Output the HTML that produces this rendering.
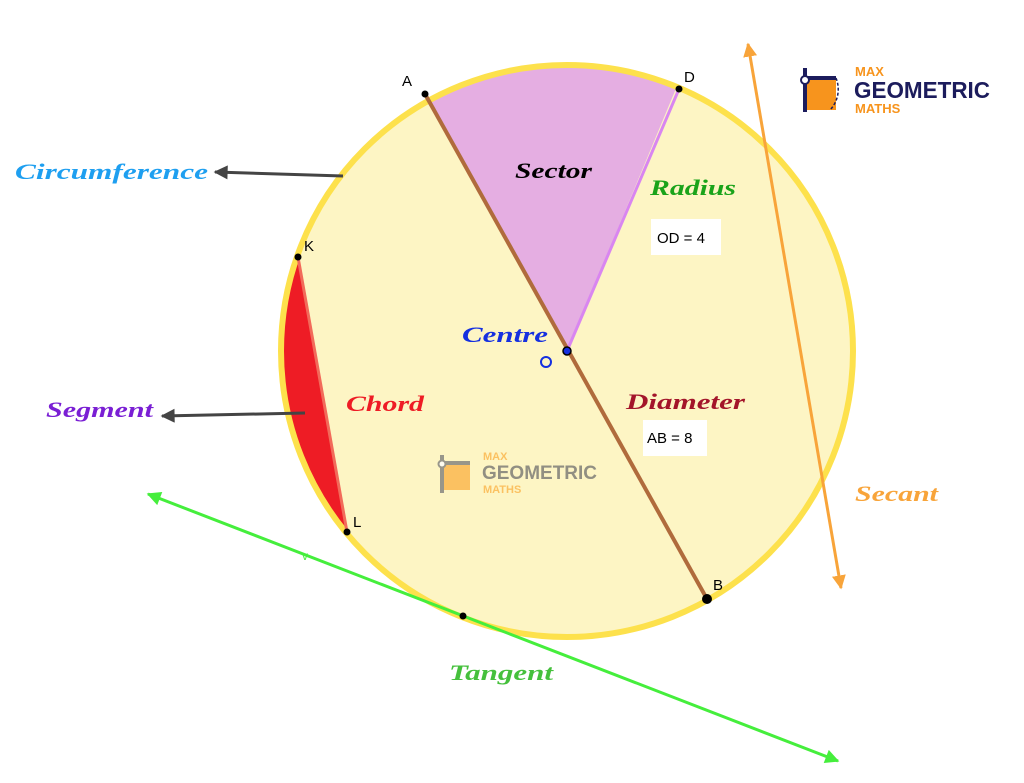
<!DOCTYPE html>
<html><head><style>
body{margin:0;background:#fff}
svg{display:block}
.l{font-family:"Liberation Serif",serif;font-style:italic;font-weight:bold;font-size:22px}
.p{font-family:"Liberation Sans",sans-serif;font-size:15px}
</style></head><body>
<svg width="1024" height="783" viewBox="0 0 1024 783">
<defs>
<clipPath id="cc"><circle cx="567" cy="351" r="286"/></clipPath>
<marker id="agr" viewBox="0 0 10 10" markerWidth="18" markerHeight="14" refX="9" refY="5" orient="auto-start-reverse" markerUnits="userSpaceOnUse"><path d="M0,0 L10,5 L0,10 z" fill="#45ee3c"/></marker>
<marker id="ao" viewBox="0 0 10 10" markerWidth="14" markerHeight="22" refX="9" refY="5" orient="auto-start-reverse" markerUnits="userSpaceOnUse"><path d="M0,0 L10,5 L0,10 z" fill="#f8a43a"/></marker>
<marker id="ad" viewBox="0 0 10 10" markerWidth="20" markerHeight="14" refX="9" refY="5" orient="auto" markerUnits="userSpaceOnUse"><path d="M0,0 L10,5 L0,10 z" fill="#444"/></marker>
</defs>
<circle cx="567" cy="351" r="286" fill="#fdf5c4"/>
<g clip-path="url(#cc)">
<path d="M567,351 L404,56 L692,50 Z" fill="#e5aee2"/>
<path d="M298,257 L347,532 L200,600 L200,200 Z" fill="#ee1c25"/>
</g>
<circle cx="567" cy="351" r="286" fill="none" stroke="#fde14c" stroke-width="6"/>
<line x1="567" y1="351" x2="679" y2="89" stroke="#d986f0" stroke-width="3"/>
<line x1="298" y1="257" x2="347" y2="532" stroke="#f26a5a" stroke-width="3"/>
<line x1="425" y1="94" x2="707" y2="599" stroke="#b06b3c" stroke-width="4"/>
<line x1="148" y1="494" x2="838" y2="761" stroke="#45ee3c" stroke-width="3" marker-start="url(#agr)" marker-end="url(#agr)"/>
<line x1="748" y1="44" x2="841" y2="588" stroke="#f8a43a" stroke-width="3" marker-start="url(#ao)" marker-end="url(#ao)"/>
<line x1="343" y1="176" x2="215" y2="172" stroke="#444" stroke-width="3" marker-end="url(#ad)"/>
<line x1="305" y1="413" x2="162" y2="416" stroke="#444" stroke-width="3" marker-end="url(#ad)"/>
<circle cx="425" cy="94" r="3.5"/><circle cx="679" cy="89" r="3.5"/>
<circle cx="707" cy="599" r="5"/><circle cx="298" cy="257" r="3.5"/>
<circle cx="347" cy="532" r="3.5"/><circle cx="463" cy="616" r="3.5"/>
<circle cx="567" cy="351" r="4" fill="#1530e0" stroke="#000" stroke-width="1.5"/>
<circle cx="546" cy="362" r="5" fill="none" stroke="#1530e0" stroke-width="2"/>
<text x="402" y="86" class="p">A</text><text x="684" y="82" class="p">D</text>
<text x="713" y="590" class="p">B</text><text x="304" y="251" class="p">K</text>
<text x="353" y="527" class="p">L</text>
<text x="302" y="560" fill="#45ee3c" font-family="Liberation Sans" font-size="12">v</text>
<text x="15" y="179" class="l" fill="#1e9ff0" textLength="193" lengthAdjust="spacingAndGlyphs">Circumference</text>
<text x="515" y="178" class="l" fill="#000" textLength="77" lengthAdjust="spacingAndGlyphs">Sector</text>
<text x="650" y="195" class="l" fill="#1aa31a" textLength="86" lengthAdjust="spacingAndGlyphs">Radius</text>
<rect x="651" y="219" width="70" height="36" fill="#fff"/>
<text x="657" y="243" class="p" font-size="16">OD = 4</text>
<text x="462" y="342" class="l" fill="#1530e0" textLength="86" lengthAdjust="spacingAndGlyphs">Centre</text>
<text x="46" y="417" class="l" fill="#7a1fd4" textLength="107" lengthAdjust="spacingAndGlyphs">Segment</text>
<text x="346" y="411" class="l" fill="#ee1c25" textLength="78" lengthAdjust="spacingAndGlyphs">Chord</text>
<text x="626" y="409" class="l" fill="#a3152a" textLength="119" lengthAdjust="spacingAndGlyphs">Diameter</text>
<rect x="643" y="420" width="64" height="36" fill="#fff"/>
<text x="647" y="443" class="p" font-size="16">AB = 8</text>
<text x="855" y="501" class="l" fill="#f8a43a" textLength="83" lengthAdjust="spacingAndGlyphs">Secant</text>
<text x="449" y="680" class="l" fill="#45c03c" textLength="104" lengthAdjust="spacingAndGlyphs">Tangent</text>
<g font-family="Liberation Sans,sans-serif" font-weight="bold">
<path d="M806,78 h30 v32 h-30 z" fill="#f7941d"/>
<path d="M836,78 a30,30 0 0 1 -6,32" fill="none" stroke="#1c1c5c" stroke-width="1.5" stroke-dasharray="3,2"/>
<rect x="803" y="68" width="4" height="44" fill="#1c1c5c"/><rect x="803" y="76" width="33" height="4" fill="#1c1c5c"/>
<circle cx="805" cy="80" r="4" fill="#fff" stroke="#1c1c5c" stroke-width="2"/>
<text x="855" y="76" fill="#f7941d" font-size="13">MAX</text>
<text x="854" y="98" fill="#1c1c5c" font-size="23" textLength="136" lengthAdjust="spacingAndGlyphs">GEOMETRIC</text>
<text x="855" y="113" fill="#f7941d" font-size="13">MATHS</text>
</g>
<g font-family="Liberation Sans,sans-serif" font-weight="bold" opacity="0.75">
<path d="M443,463 h27 v27 h-27 z" fill="#fbb040"/>
<rect x="440" y="455" width="4" height="38" fill="#777"/><rect x="440" y="461" width="30" height="4" fill="#777"/>
<circle cx="442" cy="464" r="3.5" fill="#fff" stroke="#777" stroke-width="2"/>
<text x="483" y="460" fill="#fbb040" font-size="11">MAX</text>
<text x="482" y="479" fill="#6d6d6d" font-size="19" textLength="115" lengthAdjust="spacingAndGlyphs">GEOMETRIC</text>
<text x="483" y="493" fill="#fbb040" font-size="11">MATHS</text>
</g>
</svg>
</body></html>
